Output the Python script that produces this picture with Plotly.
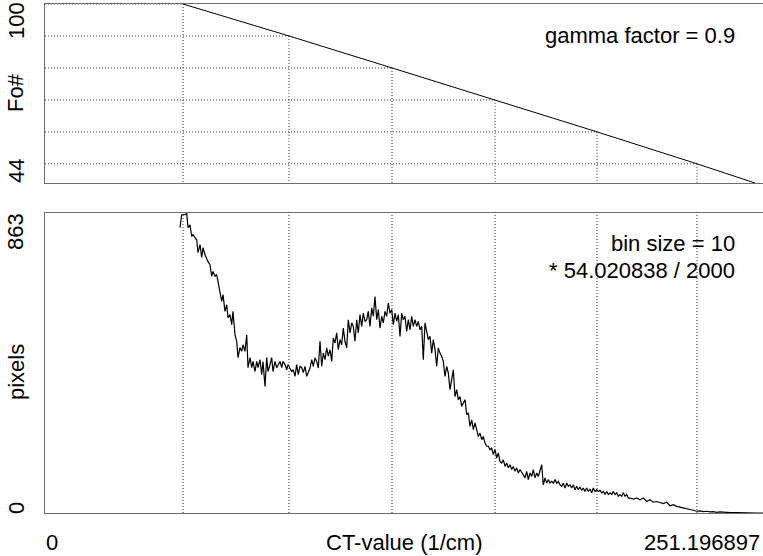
import plotly.graph_objects as go

# ---- data ----
x_max = 251.196897
fo_ct = [48.28, 85.37, 121.40, 157.44, 193.12, 228.11, 248.40]
fo_vals = [100, 90, 80, 70, 60, 50, 44]
grid_ct = [48.28, 85.37, 121.40, 157.44, 193.12, 228.11]
grid_fo = [100, 90, 80, 70, 60, 50]
fo_min, fo_max = 44, 100
pix_max = 863

hist_ct = [
    47.23, 47.83, 48.98, 49.57, 50.03, 50.73, 51.32, 51.78, 52.48, 53.07,
    53.53, 54.23, 54.82, 55.28, 55.98, 56.57, 57.03, 57.73, 58.32, 58.78,
    59.48, 60.07, 60.53, 61.23, 61.82, 62.28, 62.97, 63.57, 64.02, 64.72,
    65.32, 65.77, 66.47, 67.07, 67.52, 68.22, 68.82, 69.27, 69.97, 70.57,
    71.02, 71.72, 72.32, 72.77, 73.47, 74.07, 74.52, 75.22, 75.81, 76.27,
    76.97, 77.56, 78.02, 78.72, 79.31, 79.77, 80.47, 81.06, 81.52, 82.22,
    82.81, 83.27, 83.96, 84.56, 85.01, 85.72, 86.31, 86.87, 87.46, 88.06,
    88.62, 89.21, 89.81, 90.37, 90.96, 91.56, 92.12, 92.71, 93.31, 93.87,
    94.46, 95.06, 95.62, 96.21, 96.81, 97.37, 97.96, 98.56, 99.12, 99.71,
    100.31, 100.86, 101.46, 102.05, 102.61, 103.21, 103.80, 104.36, 104.95, 105.55,
    106.11, 106.71, 107.30, 107.86, 108.45, 109.05, 109.61, 110.21, 110.80, 111.36,
    111.95, 112.55, 113.11, 113.70, 114.30, 114.86, 115.45, 116.05, 116.61, 117.20,
    117.80, 118.36, 118.95, 119.55, 120.11, 120.70, 121.30, 121.86, 122.45, 123.05,
    123.61, 124.20, 124.80, 125.35, 125.95, 126.54, 127.10, 127.70, 128.29, 128.85,
    129.45, 130.04, 130.60, 131.20, 131.79, 132.35, 132.95, 133.54, 134.10, 134.70,
    135.29, 135.85, 136.45, 137.04, 137.60, 138.19, 138.79, 139.35, 139.94, 140.54,
    141.10, 141.69, 142.29, 142.85, 143.44, 144.04, 144.60, 145.19, 145.79, 146.35,
    146.94, 147.54, 148.10, 148.69, 149.29, 149.85, 150.44, 151.04, 151.59, 152.19,
    152.78, 153.34, 153.94, 154.53, 155.09, 155.69, 156.28, 156.84, 157.44, 158.03,
    158.59, 159.19, 159.78, 160.34, 160.94, 161.53, 162.09, 162.68, 163.28, 163.84,
    164.43, 165.03, 165.59, 166.18, 166.78, 167.33, 167.93, 168.53, 169.09, 169.68,
    170.28, 170.84, 171.43, 172.03, 172.59, 173.18, 173.78, 174.33, 174.93, 175.53,
    176.09, 176.68, 177.28, 177.83, 178.43, 179.02, 179.58, 180.18, 180.77, 181.33,
    181.93, 182.52, 183.08, 183.68, 184.27, 184.83, 185.42, 186.02, 186.58, 187.18,
    187.77, 188.33, 188.92, 189.52, 190.08, 190.67, 191.27, 191.83, 192.42, 193.02,
    193.58, 194.17, 194.77, 195.33, 195.92, 196.52, 197.08, 197.67, 198.27, 198.83,
    199.42, 200.01, 200.57, 201.17, 201.76, 202.32, 202.92, 203.51, 204.07, 204.67,
    205.82, 207.01, 208.18, 209.33, 210.52, 211.67, 212.82, 214.01, 215.16, 216.32,
    217.51, 218.66, 219.81, 221.00, 222.16, 223.31, 224.50, 225.65, 226.81, 228.00,
    229.15, 230.30, 231.49, 232.65, 233.80, 234.99, 236.15, 237.30, 238.49, 239.64,
    241.99, 244.30, 246.65, 248.99, 251.20,
]
hist_pixels = [
    821, 858, 858, 862, 821, 829, 796, 801, 792, 786,
    749, 772, 735, 763, 743, 729, 723, 714, 681, 695,
    681, 686, 666, 638, 609, 628, 580, 599, 562, 571,
    542, 580, 513, 494, 447, 476, 465, 484, 465, 513,
    418, 447, 418, 436, 407, 436, 418, 441, 398, 436,
    364, 447, 407, 427, 447, 407, 436, 418, 427, 436,
    418, 436, 427, 412, 427, 417, 407, 412, 393, 427,
    398, 422, 418, 404, 422, 393, 407, 417, 441, 422,
    446, 436, 417, 494, 422, 460, 441, 475, 451, 470,
    436, 503, 489, 518, 470, 499, 484, 532, 494, 475,
    556, 518, 547, 537, 494, 556, 518, 571, 537, 575,
    551, 556, 580, 537, 590, 566, 623, 556, 585, 532,
    566, 547, 580, 566, 604, 575, 585, 542, 575, 551,
    571, 508, 575, 556, 566, 522, 556, 527, 566, 537,
    556, 537, 551, 527, 537, 441, 547, 518, 499, 508,
    460, 499, 470, 422, 475, 460, 451, 436, 393, 422,
    403, 355, 388, 412, 335, 355, 326, 335, 307, 316,
    326, 283, 288, 249, 268, 240, 259, 240, 220, 230,
    211, 220, 201, 192, 192, 182, 187, 168, 182, 158,
    173, 148, 144, 153, 134, 144, 130, 139, 125, 134,
    120, 130, 115, 125, 115, 110, 101, 120, 96, 115,
    105, 125, 101, 115, 105, 120, 139, 81, 101, 86,
    96, 86, 91, 86, 96, 86, 91, 81, 77, 86,
    72, 86, 77, 81, 72, 81, 67, 77, 67, 75,
    65, 72, 62, 72, 62, 69, 58, 72, 62, 67,
    62, 65, 58, 62, 53, 62, 53, 58, 53, 62,
    53, 58, 48, 53, 48, 58, 48, 53, 43, 43,
    40, 43, 38, 43, 33, 38, 31, 33, 29, 27,
    31, 21, 24, 19, 17, 14, 12, 10, 8, 5,
    6, 4, 5, 3, 4, 2, 3, 2, 2, 1,
    1, 0, 0, 0, 0,
]

# ---- layout helpers (pixel geometry of the page) ----
W, H = 763, 556
ML, MR, MT, MB = 45, 0, 4, 43
PW, PH = W - ML - MR, H - MT - MB


def px(xp):
    return (xp - ML) / PW


def py(yp):
    return (H - MB - yp) / PH


FONT = "Liberation Sans, Arial, sans-serif"
FS = 22
AXC = "#6e6e6e"
GRIDC = "#333333"

fig = go.Figure()

# top panel: Fo# curve
fig.add_trace(go.Scatter(x=fo_ct, y=fo_vals, mode="lines",
                         line=dict(color="black", width=1),
                         xaxis="x", yaxis="y", showlegend=False,
                         hoverinfo="skip"))
# bottom panel: histogram
fig.add_trace(go.Scatter(x=hist_ct, y=hist_pixels, mode="lines",
                         line=dict(color="black", width=1.2),
                         xaxis="x2", yaxis="y2", showlegend=False,
                         hoverinfo="skip"))

shapes = []
dot = dict(color=GRIDC, width=1, dash="1px,2px")
for c, f in zip(grid_ct, grid_fo):
    shapes.append(dict(type="line", xref="x", yref="y", x0=0, x1=c, y0=f, y1=f,
                       line=dot, layer="below"))
    shapes.append(dict(type="line", xref="x", yref="y", x0=c, x1=c, y0=f, y1=fo_min,
                       line=dot, layer="below"))
    shapes.append(dict(type="line", xref="x2", yref="y2", x0=c, x1=c, y0=0, y1=pix_max,
                       line=dot, layer="below"))

top_dom = [py(183), 1.0]
bot_dom = [0.0, py(213)]

axis_common = dict(showgrid=False, zeroline=False, showline=True, linecolor=AXC,
                   linewidth=1, ticks="", showticklabels=False, fixedrange=True)

fig.update_layout(
    width=W, height=H,
    margin=dict(l=ML, r=MR, t=MT, b=MB, pad=0),
    paper_bgcolor="white", plot_bgcolor="white",
    font=dict(family=FONT, size=FS, color="black"),
    xaxis=dict(domain=[0, 1], range=[0, x_max], anchor="y", mirror=True, **axis_common),
    yaxis=dict(domain=top_dom, range=[fo_min, fo_max], anchor="x", **axis_common),
    xaxis2=dict(domain=[0, 1], range=[0, x_max], anchor="y2", mirror=True, **axis_common),
    yaxis2=dict(domain=bot_dom, range=[0, pix_max], anchor="x2", **axis_common),
    shapes=shapes,
)

ann = []


def add(text, xp, yp, xanchor="center", angle=0):
    ann.append(dict(text=text, x=px(xp), y=py(yp), xref="paper", yref="paper",
                    xanchor=xanchor, yanchor="middle", textangle=angle,
                    showarrow=False, font=dict(family=FONT, size=FS, color="black")))


add(str(fo_max), 16, 21, angle=-90)
add("Fo#", 16, 93, angle=-90)
add(str(fo_min), 16, 171, angle=-90)
add(str(pix_max), 16, 232, angle=-90)
add("pixels", 16, 372, angle=-90)
add("0", 16, 508, angle=-90)
add("0", 44, 542, xanchor="left")
add("CT-value (1/cm)", 404, 542)
add(f"{x_max:.6f}", 762, 542, xanchor="right")
add("gamma factor = 0.9", 737, 35, xanchor="right")
add("bin size = 10", 737, 243, xanchor="right")
add("* 54.020838 / 2000", 737, 270, xanchor="right")

fig.update_layout(annotations=ann)

fig.write_html(
    "out.html",
    config={"displayModeBar": False, "responsive": False},
    post_script="document.body.style.margin='0';document.body.style.overflow='hidden';",
)
